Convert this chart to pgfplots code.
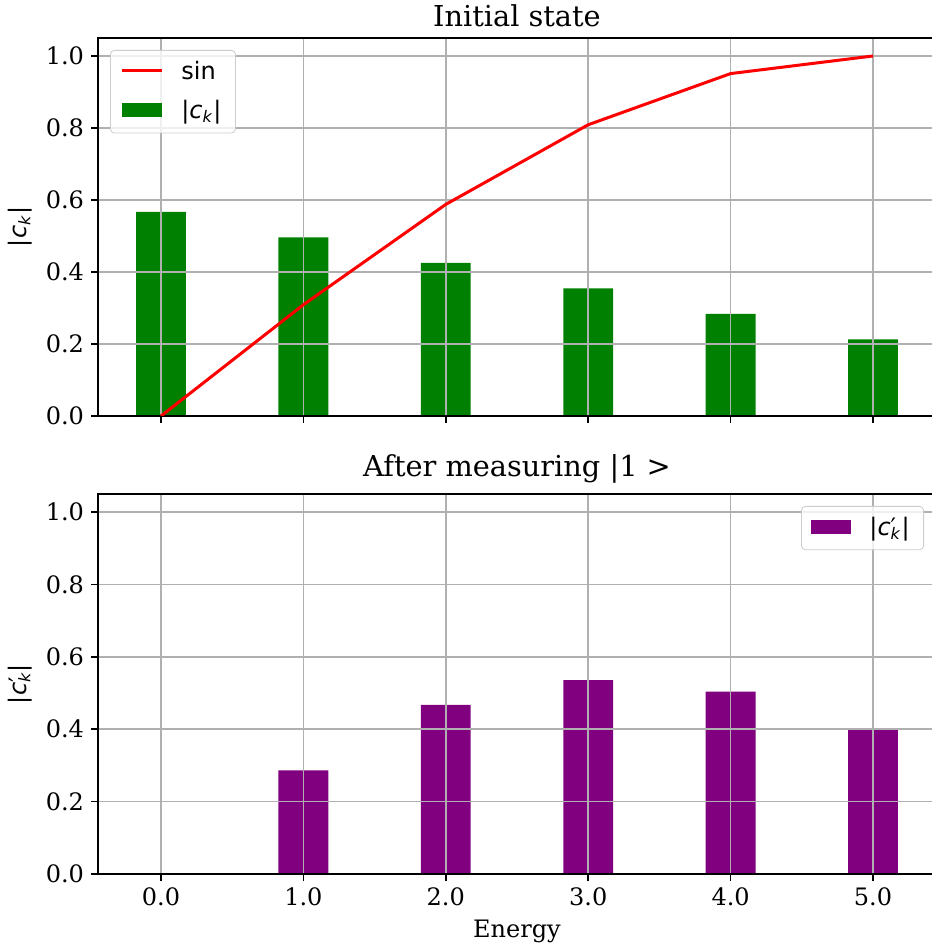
\documentclass[border=0pt]{standalone}
\usepackage{fontspec}
\setmainfont{DejaVu Serif}
\newfontfamily\dvs{DejaVu Sans}
\usepackage{pgfplots}
\pgfplotsset{compat=1.18}
\definecolor{mplgreen}{HTML}{008000}
\definecolor{mplpurple}{HTML}{800080}
\definecolor{mplred}{HTML}{FF0000}
\definecolor{gridgray}{HTML}{B0B0B0}
\definecolor{legedge}{HTML}{CCCCCC}
\pgfplotsset{
  common/.style={
    set layers=standard,
    scale only axis,
    width=419pt,
    xmin=-0.4425, xmax=5.4425,
    ymin=0, ymax=1.05,
    xtick={0,1,2,3,4,5},
    ytick={0,0.2,0.4,0.6,0.8,1.0},
    tick pos=left,
    tick align=outside,
    major tick length=3.5pt,
    tick style={line width=0.8pt, black},
    axis line style={line width=0.8pt},
    grid=major,
    major grid style={color=gridgray, line width=0.8pt},
    /pgf/number format/assume math mode=true,
    xticklabel style={/pgf/number format/.cd, fixed, fixed zerofill, precision=1},
    yticklabel style={/pgf/number format/.cd, fixed, fixed zerofill, precision=1},
    tick label style={font=\fontsize{12}{14}\selectfont},
    label style={font=\fontsize{12}{14}\selectfont},
    title style={font=\fontsize{14.4}{17}\selectfont, yshift=-4pt},
    legend cell align=left,
    legend style={font=\fontsize{12}{14}\selectfont, draw=legedge, rounded corners=2pt,
      fill=white, fill opacity=0.8, text opacity=1, inner xsep=5pt, inner ysep=3.5pt,
      row sep=5pt, column sep=7pt},
  },
  barleg/.style={legend image code/.code={\fill[##1, sharp corners, fill opacity=1] (0pt,-0.28em) rectangle (2em,0.42em);}},
  lineleg/.style={legend image code/.code={\draw[##1, sharp corners, opacity=1] (0pt,0.07em) -- (2em,0.07em);}},
}
\begin{document}
\begin{tikzpicture}
\begin{axis}[common,
  at={(0pt,0pt)}, anchor=south west,
  height=190pt,
  title={After measuring |1 >},
  xlabel={Energy},
  ylabel={{\dvs|\textit{c}\rlap{′}\textsubscript{\textit{k}}|}},
  legend style={at={(1,1)}, anchor=north east, xshift=-6pt, yshift=-6pt},
]
\addplot[ybar, bar width=0.35, bar shift=0pt, fill=mplpurple, draw=none, on layer=axis background, barleg]
  coordinates {(0,0) (1,0.2866) (2,0.4674) (3,0.5360) (4,0.5040) (5,0.3977)};
\addlegendentry{{\dvs|\textit{c}\rlap{′}\textsubscript{\textit{k}}|}}
\end{axis}
\begin{axis}[common,
  at={(0pt,229pt)}, anchor=south west,
  height=189pt,
  title={Initial state},
  xticklabels={{},{},{},{},{},{}},
  ylabel={{\dvs|\textit{c}\textsubscript{\textit{k}}|}},
  legend style={at={(0,1)}, anchor=north west, xshift=6pt, yshift=-6pt},
]
\addplot[mplred, line width=1.5pt, lineleg]
  coordinates {(0,0) (1,0.3090) (2,0.5878) (3,0.8090) (4,0.9511) (5,1.0)};
\addlegendentry{{\dvs sin}}
\addplot[ybar, bar width=0.35, bar shift=0pt, fill=mplgreen, draw=none, on layer=axis background, barleg]
  coordinates {(0,0.5671) (1,0.4962) (2,0.4253) (3,0.3544) (4,0.2835) (5,0.2127)};
\addlegendentry{{\dvs|\textit{c}\textsubscript{\textit{k}}|}}
\end{axis}
\pgfresetboundingbox
\useasboundingbox (-49pt,-36.5pt) rectangle (416.5pt,437pt);
\end{tikzpicture}
\end{document}
